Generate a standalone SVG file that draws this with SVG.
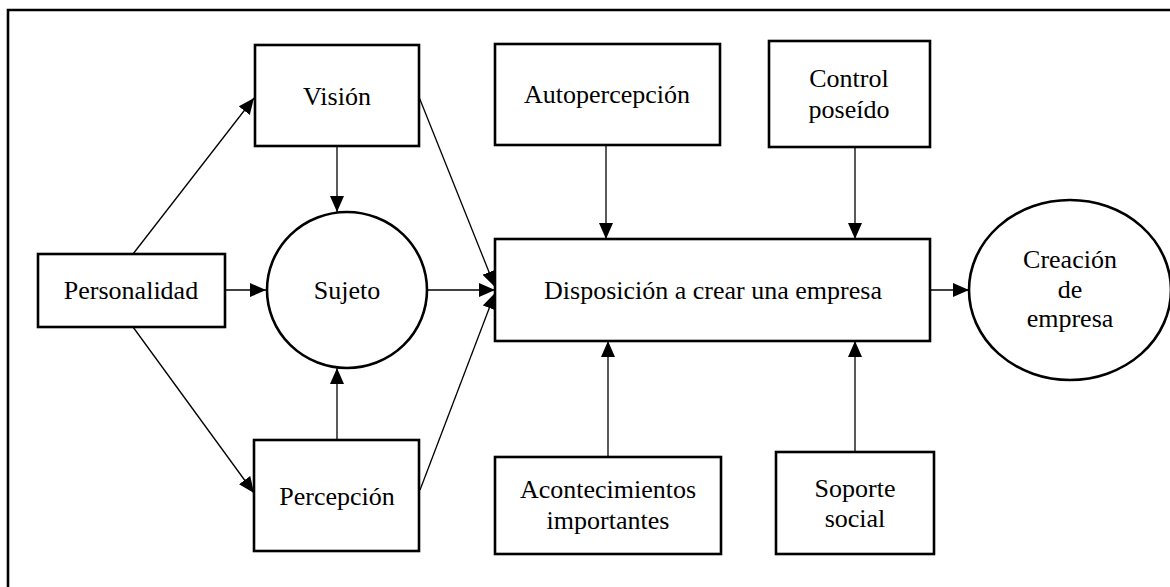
<svg xmlns="http://www.w3.org/2000/svg" width="1170" height="587" viewBox="0 0 1170 587">
<defs>
<marker id="arr" viewBox="0 0 16 14" refX="16" refY="7" markerWidth="16" markerHeight="14" markerUnits="userSpaceOnUse" orient="auto">
<path d="M0,0 L16,7 L0,14 z" fill="#000"/>
</marker>
</defs>
<style>
.box{fill:#fff;stroke:#000;stroke-width:2.6}
.conn{fill:none;stroke:#000;stroke-width:1.3;marker-end:url(#arr)}
</style>
<rect width="1170" height="587" fill="#fff"/>
<path d="M8,600 L8,10 L1180,10" fill="none" stroke="#000" stroke-width="2.6"/>
<g id="connectors">
<line class="conn" x1="133" y1="254" x2="254" y2="98"/>
<line class="conn" x1="225" y1="290" x2="266" y2="290"/>
<line class="conn" x1="133" y1="327" x2="254" y2="493"/>
<line class="conn" x1="337" y1="146" x2="337" y2="212"/>
<line class="conn" x1="337" y1="440" x2="337" y2="368"/>
<line class="conn" x1="419" y1="97" x2="495" y2="287"/>
<line class="conn" x1="428" y1="290" x2="495" y2="290"/>
<line class="conn" x1="420" y1="490" x2="495" y2="293"/>
<line class="conn" x1="606" y1="145" x2="606" y2="239"/>
<line class="conn" x1="855" y1="147" x2="855" y2="239"/>
<line class="conn" x1="608" y1="457" x2="608" y2="341"/>
<line class="conn" x1="855" y1="452" x2="855" y2="341"/>
<line class="conn" x1="930" y1="290" x2="969" y2="290"/>
</g>
<g id="personalidad">
<rect class="box" x="38" y="254" width="187" height="73"/>
<text x="131" y="299" font-family="Liberation Serif" font-size="26" text-anchor="middle">Personalidad</text>
</g>
<g id="vision">
<rect class="box" x="255" y="45" width="164" height="101"/>
<text x="337" y="105" font-family="Liberation Serif" font-size="26" text-anchor="middle">Visión</text>
</g>
<g id="sujeto">
<ellipse class="box" cx="347" cy="290" rx="80" ry="78"/>
<text x="347" y="299" font-family="Liberation Serif" font-size="26" text-anchor="middle">Sujeto</text>
</g>
<g id="percepcion">
<rect class="box" x="254" y="440" width="165" height="111"/>
<text x="337" y="505" font-family="Liberation Serif" font-size="26" text-anchor="middle">Percepción</text>
</g>
<g id="autopercepcion">
<rect class="box" x="495" y="44" width="225" height="101"/>
<text x="607" y="103" font-family="Liberation Serif" font-size="26" text-anchor="middle">Autopercepción</text>
</g>
<g id="control">
<rect class="box" x="769" y="41" width="161" height="106"/>
<text x="849" y="87" font-family="Liberation Serif" font-size="26" text-anchor="middle">Control</text>
<text x="849" y="118" font-family="Liberation Serif" font-size="26" text-anchor="middle">poseído</text>
</g>
<g id="disposicion">
<rect class="box" x="495" y="239" width="435" height="102"/>
<text x="713" y="299" font-family="Liberation Serif" font-size="26" text-anchor="middle">Disposición a crear una empresa</text>
</g>
<g id="creacion">
<ellipse class="box" cx="1070" cy="290" rx="101" ry="90"/>
<text x="1070" y="268" font-family="Liberation Serif" font-size="26" text-anchor="middle">Creación</text>
<text x="1070" y="298" font-family="Liberation Serif" font-size="26" text-anchor="middle">de</text>
<text x="1070" y="327" font-family="Liberation Serif" font-size="26" text-anchor="middle">empresa</text>
</g>
<g id="acontecimientos">
<rect class="box" x="495" y="457" width="226" height="97"/>
<text x="608" y="498" font-family="Liberation Serif" font-size="26" text-anchor="middle">Acontecimientos</text>
<text x="608" y="529" font-family="Liberation Serif" font-size="26" text-anchor="middle">importantes</text>
</g>
<g id="soporte">
<rect class="box" x="776" y="452" width="158" height="102"/>
<text x="855" y="497" font-family="Liberation Serif" font-size="26" text-anchor="middle">Soporte</text>
<text x="855" y="527" font-family="Liberation Serif" font-size="26" text-anchor="middle">social</text>
</g>
</svg>
